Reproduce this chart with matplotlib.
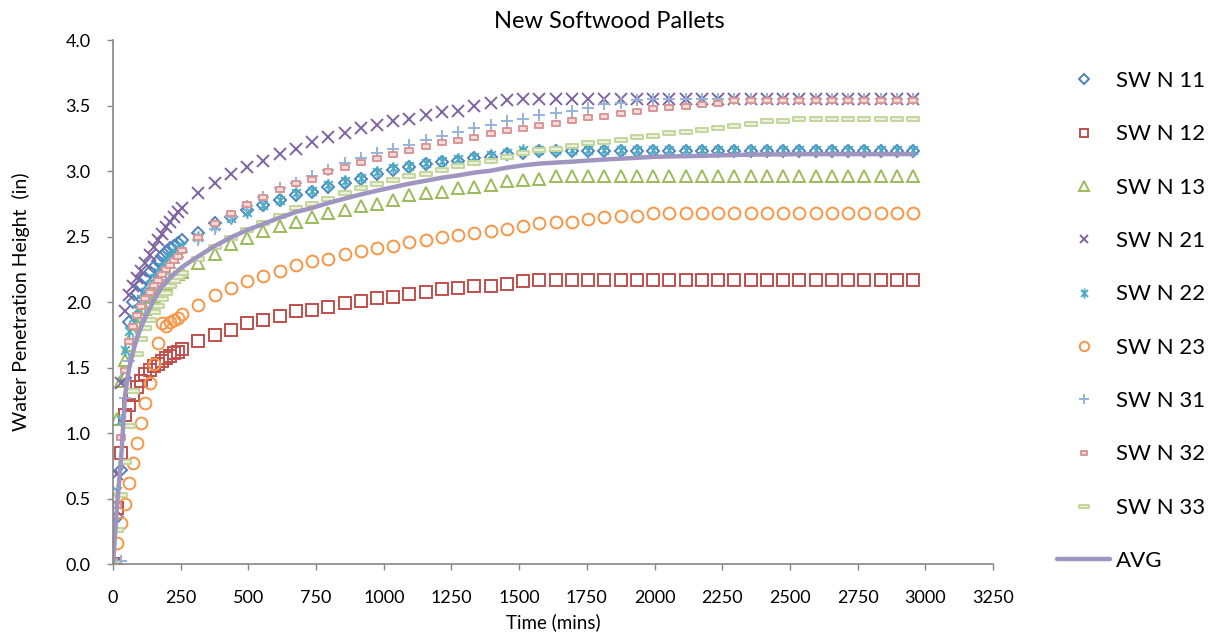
import matplotlib.pyplot as plt
from matplotlib.path import Path
import numpy as np

plt.rcParams['font.family'] = ['Lato', 'DejaVu Sans']

# sampling times (minutes)
time_min = [0, 15, 30, 45, 60, 75, 90, 105, 120, 135, 150, 165, 180, 195, 210, 225, 240, 255,
            315, 375, 435, 495, 555, 615, 675, 735, 795, 855, 915, 975, 1035, 1095, 1155, 1215,
            1275, 1335, 1395, 1455, 1515, 1575, 1635, 1695, 1755, 1815, 1875, 1935, 1995, 2055,
            2115, 2175, 2235, 2295, 2355, 2415, 2475, 2535, 2595, 2655, 2715, 2775, 2835, 2895, 2955]

# water penetration height (in) for each pallet
sw_n_11 = [0, 0.36, 0.72, 1.42, 1.85, 2.00, 2.07, 2.13, 2.18, 2.23, 2.27, 2.31, 2.35, 2.38, 2.41, 2.43, 2.45, 2.47,
           2.53, 2.60, 2.65, 2.70, 2.74, 2.78, 2.82, 2.84, 2.88, 2.91, 2.94, 2.98, 3.01, 3.03, 3.05, 3.07,
           3.08, 3.10, 3.11, 3.13, 3.14, 3.15, 3.15, 3.15, 3.15, 3.15, 3.15, 3.15, 3.15, 3.15,
           3.15, 3.15, 3.15, 3.15, 3.15, 3.15, 3.15, 3.15, 3.15, 3.15, 3.15, 3.15, 3.15, 3.15, 3.15]
sw_n_12 = [0, 0.43, 0.85, 1.14, 1.21, 1.29, 1.35, 1.40, 1.45, 1.48, 1.51, 1.53, 1.55, 1.57, 1.59, 1.61, 1.62, 1.64,
           1.70, 1.75, 1.79, 1.84, 1.86, 1.89, 1.93, 1.94, 1.96, 1.99, 2.01, 2.03, 2.04, 2.06, 2.08, 2.10,
           2.11, 2.12, 2.12, 2.14, 2.16, 2.17, 2.17, 2.17, 2.17, 2.17, 2.17, 2.17, 2.17, 2.17,
           2.17, 2.17, 2.17, 2.17, 2.17, 2.17, 2.17, 2.17, 2.17, 2.17, 2.17, 2.17, 2.17, 2.17, 2.17]
sw_n_13 = [0, 1.11, 1.40, 1.56, 1.67, 1.76, 1.83, 1.89, 1.95, 2.00, 2.04, 2.08, 2.11, 2.14, 2.17, 2.19, 2.21, 2.23,
           2.30, 2.37, 2.44, 2.49, 2.54, 2.58, 2.61, 2.65, 2.68, 2.70, 2.73, 2.75, 2.78, 2.82, 2.83, 2.84,
           2.87, 2.88, 2.89, 2.92, 2.93, 2.94, 2.96, 2.96, 2.96, 2.96, 2.96, 2.96, 2.96, 2.96,
           2.96, 2.96, 2.96, 2.96, 2.96, 2.96, 2.96, 2.96, 2.96, 2.96, 2.96, 2.96, 2.96, 2.96, 2.96]
sw_n_21 = [0, 0.69, 1.38, 1.93, 2.05, 2.12, 2.18, 2.24, 2.30, 2.36, 2.42, 2.47, 2.52, 2.57, 2.61, 2.65, 2.69, 2.72,
           2.83, 2.91, 2.98, 3.03, 3.08, 3.13, 3.17, 3.22, 3.26, 3.29, 3.33, 3.35, 3.38, 3.40, 3.43, 3.45,
           3.46, 3.50, 3.52, 3.54, 3.55, 3.55, 3.55, 3.55, 3.55, 3.55, 3.55, 3.55, 3.55, 3.55,
           3.55, 3.55, 3.55, 3.55, 3.55, 3.55, 3.55, 3.55, 3.55, 3.55, 3.55, 3.55, 3.55, 3.55, 3.55]
sw_n_22 = [0, 0.56, 1.10, 1.63, 1.78, 1.88, 1.95, 2.02, 2.08, 2.13, 2.18, 2.23, 2.27, 2.31, 2.35, 2.38, 2.41, 2.43,
           2.50, 2.58, 2.64, 2.69, 2.74, 2.78, 2.83, 2.85, 2.89, 2.92, 2.95, 2.99, 3.02, 3.04, 3.06, 3.08,
           3.09, 3.11, 3.12, 3.14, 3.16, 3.16, 3.16, 3.16, 3.16, 3.16, 3.16, 3.16, 3.16, 3.16,
           3.16, 3.16, 3.16, 3.16, 3.16, 3.16, 3.16, 3.16, 3.16, 3.16, 3.16, 3.16, 3.16, 3.16, 3.16]
sw_n_23 = [0, 0.16, 0.31, 0.46, 0.62, 0.77, 0.92, 1.08, 1.23, 1.38, 1.53, 1.69, 1.84, 1.82, 1.85, 1.86, 1.88, 1.91,
           1.98, 2.05, 2.11, 2.16, 2.20, 2.24, 2.28, 2.31, 2.33, 2.37, 2.39, 2.41, 2.43, 2.46, 2.47, 2.50,
           2.51, 2.53, 2.54, 2.56, 2.58, 2.60, 2.61, 2.61, 2.63, 2.65, 2.66, 2.66, 2.68, 2.68,
           2.68, 2.68, 2.68, 2.68, 2.68, 2.68, 2.68, 2.68, 2.68, 2.68, 2.68, 2.68, 2.68, 2.68, 2.68]
sw_n_31 = [0, 0.00, 0.02, 1.27, 1.55, 1.70, 1.80, 1.88, 1.95, 2.01, 2.07, 2.12, 2.17, 2.21, 2.26, 2.30, 2.34, 2.38,
           2.47, 2.56, 2.65, 2.73, 2.80, 2.87, 2.91, 2.96, 3.01, 3.06, 3.10, 3.14, 3.17, 3.20, 3.24, 3.27,
           3.30, 3.33, 3.35, 3.38, 3.40, 3.43, 3.44, 3.46, 3.48, 3.51, 3.52, 3.54, 3.55, 3.55,
           3.55, 3.55, 3.55, 3.55, 3.55, 3.55, 3.55, 3.55, 3.55, 3.55, 3.55, 3.55, 3.55, 3.55, 3.55]
sw_n_32 = [0, 0.45, 0.97, 1.48, 1.70, 1.82, 1.90, 1.97, 2.03, 2.08, 2.13, 2.17, 2.21, 2.25, 2.28, 2.32, 2.35, 2.40,
           2.50, 2.60, 2.68, 2.75, 2.80, 2.86, 2.91, 2.94, 3.00, 3.03, 3.07, 3.10, 3.13, 3.16, 3.19, 3.22,
           3.24, 3.26, 3.29, 3.31, 3.33, 3.35, 3.37, 3.39, 3.41, 3.42, 3.44, 3.46, 3.48, 3.49,
           3.50, 3.51, 3.52, 3.54, 3.54, 3.54, 3.54, 3.54, 3.54, 3.54, 3.54, 3.54, 3.54, 3.54, 3.54]
sw_n_33 = [0, 0.26, 0.53, 0.78, 1.05, 1.32, 1.60, 1.72, 1.80, 1.86, 1.92, 1.97, 2.02, 2.07, 2.12, 2.16, 2.19, 2.22,
           2.33, 2.42, 2.49, 2.55, 2.60, 2.66, 2.72, 2.75, 2.79, 2.83, 2.87, 2.90, 2.93, 2.96, 2.98, 3.01,
           3.04, 3.06, 3.08, 3.11, 3.14, 3.16, 3.17, 3.19, 3.21, 3.22, 3.24, 3.26, 3.27, 3.29,
           3.30, 3.31, 3.33, 3.34, 3.36, 3.38, 3.38, 3.40, 3.40, 3.40, 3.40, 3.40, 3.40, 3.40, 3.40]

# custom marker shapes (Excel style)
star = Path([(-0.7, -0.7), (0.7, 0.7), (-0.7, 0.7), (0.7, -0.7), (0, -1), (0, 1)],
            [Path.MOVETO, Path.LINETO, Path.MOVETO, Path.LINETO, Path.MOVETO, Path.LINETO])
short_dash = Path([(-1, -0.6), (1, -0.6), (1, 0.6), (-1, 0.6), (-1, -0.6)],
                  [Path.MOVETO, Path.LINETO, Path.LINETO, Path.LINETO, Path.CLOSEPOLY])
long_dash = Path([(-1, -0.3), (1, -0.3), (1, 0.3), (-1, 0.3), (-1, -0.3)],
                 [Path.MOVETO, Path.LINETO, Path.LINETO, Path.LINETO, Path.CLOSEPOLY])

series = [
    ('SW N 11', sw_n_11, 'D', 6.5, '#4F81BD', 'none'),
    ('SW N 12', sw_n_12, 's', 8, '#C0504D', 'none'),
    ('SW N 13', sw_n_13, '^', 8.5, '#9BBB59', 'none'),
    ('SW N 21', sw_n_21, 'x', 8, '#8064A2', 'none'),
    ('SW N 22', sw_n_22, star, 9, '#4BACC6', 'none'),
    ('SW N 23', sw_n_23, 'o', 8.5, '#F79646', 'none'),
    ('SW N 31', sw_n_31, '+', 9, '#95B3D7', 'none'),
    ('SW N 32', sw_n_32, short_dash, 6, '#D99694', '#F2DCDB'),
    ('SW N 33', sw_n_33, long_dash, 9, '#C3D69B', '#EBF1DE'),
]

fig = plt.figure(figsize=(12.19, 6.36), dpi=100)
ax = fig.add_axes([0.0927, 0.1132, 0.7219, 0.8239])

for label, vals, mk, ms, col, face in series:
    ax.plot(time_min, vals, linestyle='none', marker=mk, markersize=ms,
            markeredgecolor=col, markerfacecolor=face, markeredgewidth=1.4, label=label)

avg = np.mean([s[1] for s in series], axis=0)
ax.plot(time_min, avg, color='#A094C0', linewidth=3.2, solid_capstyle='round', label='AVG')

ax.set_xlim(0, 3250)
ax.set_ylim(0, 4)
ax.set_xticks(range(0, 3251, 250))
ax.set_yticks(np.arange(0, 4.01, 0.5))
ax.yaxis.set_major_formatter(plt.FormatStrFormatter('%.1f'))

for side in ['top', 'right']:
    ax.spines[side].set_visible(False)
for side in ['left', 'bottom']:
    ax.spines[side].set_color('#868686')
    ax.spines[side].set_linewidth(1.2)

ax.tick_params(axis='both', direction='out', length=4, width=1, color='#868686')
ax.tick_params(axis='y', labelsize=13, pad=12)
ax.tick_params(axis='x', labelsize=13, pad=15)
for lbl in ax.get_xticklabels():
    lbl.set_family(['Liberation Sans Narrow', 'Lato'])

fig.text(0.5, 1 - 28 / 636, 'New Softwood Pallets', ha='center', va='baseline', fontsize=17)
fig.text(0.4537, 1 - 628 / 636, 'Time (mins)', ha='center', va='baseline', fontsize=13.5,
         family=['Liberation Sans Narrow', 'Lato'])
fig.text(21 / 1219, 0.525, 'Water Penetration Height  (in)', rotation=90,
         ha='center', va='center', fontsize=14)

handles, labels = ax.get_legend_handles_labels()
fig.legend(handles, labels, loc='upper left', bbox_to_anchor=(1057 / 1219, 1 - 71 / 636),
           frameon=False, fontsize=16, labelspacing=1.5, handlelength=2.4,
           handletextpad=0.25, borderpad=0, borderaxespad=0, numpoints=1, markerscale=0.8)

fig.savefig('out.png', dpi=100)
